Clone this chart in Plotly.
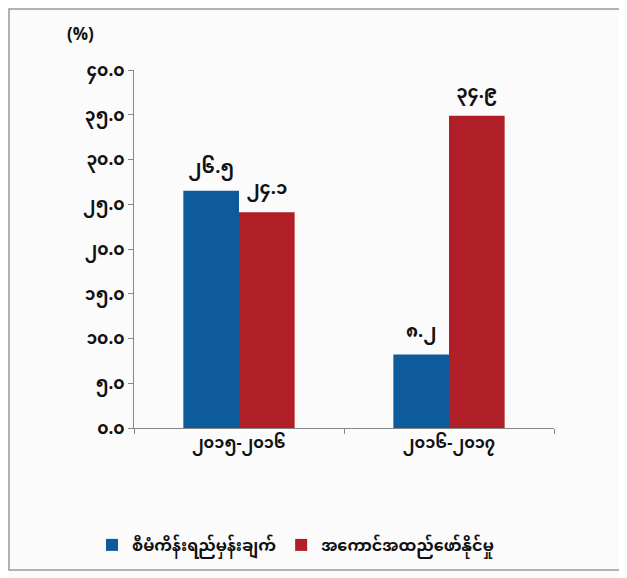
import plotly.graph_objects as go

categories = ["၂၀၁၅-၂၀၁၆", "၂၀၁၆-၂၀၁၇"]
series_names = ["စီမံကိန်းရည်မှန်းချက်", "အကောင်အထည်ဖော်နိုင်မှု"]
target_values = [26.5, 8.2]
achieved_values = [24.1, 34.9]
target_labels = ["၂၆.၅", "၈.၂"]
achieved_labels = ["၂၄.၁", "၃၄.၉"]
tick_values = [0, 5, 10, 15, 20, 25, 30, 35, 40]
tick_labels = ["၀.၀", "၅.၀", "၁၀.၀", "၁၅.၀", "၂၀.၀", "၂၅.၀", "၃၀.၀", "၃၅.၀", "၄၀.၀"]

font_family = "Noto Sans Myanmar, Padauk, Myanmar Text, Noto Sans, DejaVu Sans, sans-serif"

fig = go.Figure()
fig.add_trace(go.Bar(
    x=categories, y=target_values, name=series_names[0],
    marker=dict(color="#0e5b9c", line=dict(width=0)),
    text=target_labels, textposition="outside", cliponaxis=False,
    textfont=dict(size=18, color="#111111", family=font_family, weight="bold"),
))
fig.add_trace(go.Bar(
    x=categories, y=achieved_values, name=series_names[1],
    marker=dict(color="#b01f27", line=dict(width=0)),
    text=achieved_labels, textposition="outside", cliponaxis=False,
    textfont=dict(size=18, color="#111111", family=font_family, weight="bold"),
))

# page body adds an 8px offset, so the figure is sized to fit the window
W, H = 619, 570
L, T = 126, 62
pw, ph = 420, 358
R, B = W - L - pw, H - T - ph

fig.update_layout(
    width=W, height=H,
    margin=dict(l=L, r=R, t=T, b=B, pad=0, autoexpand=False),
    paper_bgcolor="#fbfbfc", plot_bgcolor="#fbfbfc",
    barmode="group", bargap=0.47, bargroupgap=0,
    font=dict(family=font_family, size=14, color="#111111"),
    showlegend=True,
    legend=dict(orientation="h", x=(92 - 8 - L) / pw, xanchor="left", y=(T + ph - 537) / ph, yanchor="middle",
                font=dict(size=16, color="#111111", weight="bold"), itemwidth=30,
                bgcolor="rgba(0,0,0,0)", traceorder="normal"),
    xaxis=dict(showline=True, linecolor="#888888", linewidth=1,
               ticks="outside", tickson="boundaries", ticklen=5, tickcolor="#888888",
               showgrid=False, tickfont=dict(size=16, color="#111111", weight="bold"),
               range=[-0.5, 1.5]),
    yaxis=dict(range=[0, 40], tickvals=tick_values, ticktext=tick_labels,
               showline=True, linecolor="#888888", linewidth=1,
               ticks="outside", ticklen=5, tickcolor="#888888",
               showgrid=False, zeroline=False,
               tickfont=dict(size=17, color="#111111", weight="bold")),
    annotations=[dict(text="(%)", xref="paper", yref="paper",
                      x=(72 - L) / pw, y=(T + ph - 28) / ph, xanchor="center", yanchor="middle",
                      showarrow=False, font=dict(size=17, color="#111111", weight="bold"))],
    shapes=[dict(type="rect", xref="paper", yref="paper",
                 x0=(1 - L) / pw, x1=(612 - L) / pw,
                 y0=(T + ph - 562) / ph, y1=(T + ph - 1) / ph,
                 line=dict(color="#9a9a9a", width=1.5), fillcolor="rgba(0,0,0,0)")],
)

fig.write_html("out.html")
